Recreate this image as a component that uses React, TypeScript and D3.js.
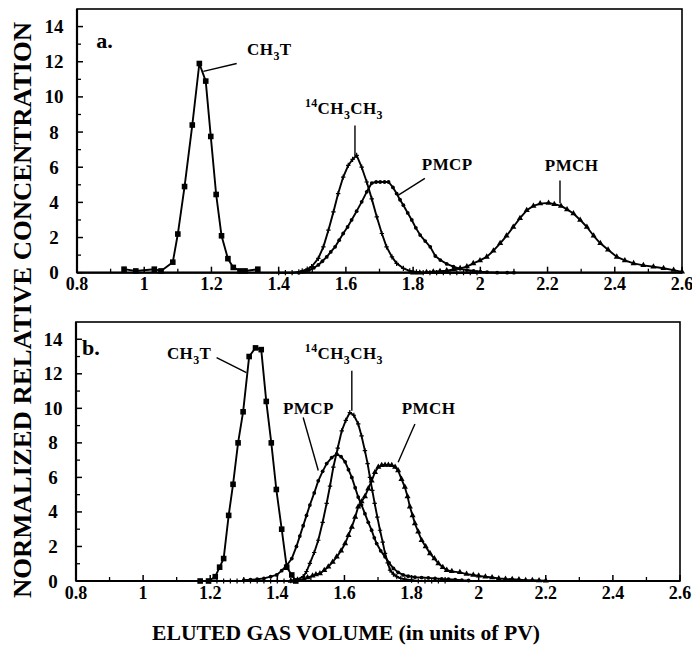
import React from 'react';
import * as d3 from 'd3';

type P = [number, number];

// ---------- axis ticks ----------
const xTicks = [0.8, 1, 1.2, 1.4, 1.6, 1.8, 2, 2.2, 2.4, 2.6];
const xTickLabels = ['0.8', '1', '1.2', '1.4', '1.6', '1.8', '2', '2.2', '2.4', '2.6'];
const yTicks = [0, 2, 4, 6, 8, 10, 12, 14];
const yTickLabels = ['0', '2', '4', '6', '8', '10', '12', '14'];

// ---------- panel a ----------
const ch3tA: P[] = [
  [0.94, 0.2], [0.975, 0.1], [1.03, 0.2], [1.05, 0.1], [1.085, 0.6], [1.1, 2.2], [1.12, 4.9],
  [1.143, 8.4], [1.164, 11.9], [1.183, 10.9], [1.198, 7.75], [1.214, 4.45], [1.23, 2.1],
  [1.249, 0.8], [1.265, 0.3], [1.285, 0.1], [1.3, 0.1], [1.338, 0.2],
];
const ethaneA: P[] = [
  [1.4, 0], [1.42, 0], [1.44, 0], [1.46, 0.05], [1.47, 0.1], [1.485, 0.2], [1.498, 0.34],
  [1.518, 0.82], [1.533, 1.47], [1.548, 2.42], [1.563, 3.46], [1.577, 4.5], [1.592, 5.44],
  [1.607, 6.1], [1.62, 6.45], [1.632, 6.67], [1.647, 6.0], [1.662, 5.16], [1.677, 4.2],
  [1.692, 3.17], [1.707, 2.23], [1.721, 1.47], [1.737, 0.9], [1.751, 0.53], [1.771, 0.25],
  [1.79, 0.1], [1.81, 0.05], [1.83, 0], [1.85, 0], [1.87, 0], [1.89, 0], [1.91, 0], [1.93, 0],
  [1.95, 0], [1.97, 0], [1.99, 0],
];
const pmcpA: P[] = [
  [1.46, 0], [1.475, 0.05], [1.49, 0.15], [1.505, 0.28], [1.518, 0.44], [1.53, 0.65],
  [1.543, 0.9], [1.555, 1.18], [1.568, 1.47], [1.58, 1.85], [1.592, 2.23], [1.605, 2.6],
  [1.617, 3.0], [1.632, 3.5], [1.647, 4.03], [1.662, 4.6], [1.677, 5.1], [1.69, 5.16],
  [1.702, 5.16], [1.715, 5.16], [1.727, 5.16], [1.74, 4.85], [1.751, 4.5], [1.761, 4.15],
  [1.771, 3.84], [1.784, 3.4], [1.796, 3.0], [1.808, 2.55], [1.821, 2.14], [1.836, 1.8],
  [1.851, 1.47], [1.866, 0.95], [1.881, 0.72], [1.9, 0.5], [1.92, 0.35], [1.94, 0.22],
  [1.96, 0.15], [1.98, 0.1], [2.0, 0.06], [2.02, 0.03], [2.05, 0], [2.08, 0], [2.1, 0],
];
const pmchA: P[] = [
  [1.8, 0], [1.82, 0], [1.84, 0.02], [1.86, 0.05], [1.88, 0.08], [1.9, 0.12], [1.92, 0.18],
  [1.94, 0.25], [1.96, 0.35], [1.979, 0.53], [1.999, 0.7], [2.019, 0.9], [2.039, 1.25],
  [2.059, 1.67], [2.078, 2.1], [2.098, 2.6], [2.118, 3.1], [2.138, 3.55], [2.158, 3.8],
  [2.178, 3.93], [2.203, 3.97], [2.22, 3.9], [2.24, 3.8], [2.258, 3.6], [2.277, 3.37],
  [2.297, 3.0], [2.317, 2.6], [2.337, 2.1], [2.357, 1.67], [2.38, 1.3], [2.406, 0.9],
  [2.43, 0.7], [2.456, 0.53], [2.485, 0.42], [2.515, 0.34], [2.545, 0.25], [2.575, 0.15],
  [2.6, 0.05],
];

// ---------- panel b ----------
const ch3tB: P[] = [
  [1.17, 0], [1.195, 0], [1.215, 0.25], [1.228, 0.8], [1.24, 1.3], [1.255, 3.8], [1.268, 5.6],
  [1.283, 8.0], [1.298, 9.8], [1.316, 13.0], [1.335, 13.5], [1.352, 13.4], [1.367, 10.4],
  [1.382, 8.0], [1.397, 5.3], [1.413, 3.0], [1.428, 0.8], [1.443, 0.35], [1.455, 0],
];
const ethaneB: P[] = [
  [1.2, 0], [1.22, 0], [1.24, 0], [1.26, 0], [1.28, 0], [1.3, 0], [1.32, 0], [1.34, 0],
  [1.36, 0], [1.38, 0], [1.4, 0], [1.42, 0], [1.44, 0.02], [1.46, 0.1], [1.477, 0.25],
  [1.487, 0.55], [1.497, 1.02], [1.51, 1.65], [1.522, 2.36], [1.535, 3.4], [1.547, 4.5],
  [1.557, 5.5], [1.567, 6.6], [1.58, 7.7], [1.592, 8.7], [1.604, 9.3], [1.616, 9.76],
  [1.628, 9.6], [1.641, 9.1], [1.651, 8.4], [1.661, 7.55], [1.669, 6.8], [1.676, 6.0],
  [1.683, 5.25], [1.69, 4.5], [1.698, 3.7], [1.706, 2.94], [1.714, 2.25], [1.721, 1.6],
  [1.729, 1.05], [1.736, 0.63], [1.746, 0.4], [1.756, 0.25], [1.768, 0.15], [1.78, 0.1],
  [1.8, 0.05], [1.82, 0], [1.84, 0], [1.86, 0], [1.88, 0], [1.9, 0],
];
const pmcpB: P[] = [
  [1.3, 0.05], [1.32, 0.08], [1.34, 0.1], [1.36, 0.15], [1.38, 0.25], [1.398, 0.35],
  [1.413, 0.6], [1.428, 0.9], [1.443, 1.3], [1.457, 2.0], [1.467, 2.6], [1.477, 3.2],
  [1.487, 3.8], [1.497, 4.4], [1.51, 5.1], [1.522, 5.8], [1.535, 6.35], [1.547, 6.8],
  [1.562, 7.15], [1.577, 7.36], [1.59, 7.2], [1.602, 6.9], [1.612, 6.45], [1.622, 6.0],
  [1.632, 5.4], [1.641, 4.86], [1.651, 4.4], [1.661, 3.9], [1.671, 3.4], [1.681, 2.94],
  [1.689, 2.5], [1.696, 2.17], [1.708, 1.75], [1.721, 1.4], [1.733, 1.05], [1.746, 0.73],
  [1.76, 0.5], [1.775, 0.35], [1.79, 0.28], [1.81, 0.22], [1.83, 0.2], [1.85, 0.18],
  [1.87, 0.15], [1.89, 0.12], [1.91, 0.1], [1.93, 0.08], [1.95, 0.05], [1.97, 0.03],
];
const pmchB: P[] = [
  [1.44, 0], [1.46, 0.05], [1.48, 0.1], [1.49, 0.2], [1.505, 0.3], [1.515, 0.38],
  [1.527, 0.44], [1.54, 0.62], [1.552, 0.83], [1.565, 1.1], [1.577, 1.4], [1.59, 1.75],
  [1.602, 2.17], [1.612, 2.65], [1.622, 3.13], [1.632, 3.7], [1.641, 4.3], [1.651, 4.6],
  [1.661, 4.9], [1.671, 5.35], [1.681, 5.8], [1.691, 6.3], [1.701, 6.6], [1.711, 6.7],
  [1.721, 6.72], [1.731, 6.72], [1.741, 6.7], [1.751, 6.6], [1.76, 6.4], [1.77, 5.9],
  [1.78, 5.44], [1.788, 4.9], [1.795, 4.3], [1.803, 3.8], [1.81, 3.33], [1.82, 2.85],
  [1.83, 2.36], [1.842, 2.0], [1.855, 1.6], [1.868, 1.3], [1.88, 1.02], [1.893, 0.8],
  [1.905, 0.63], [1.92, 0.56], [1.944, 0.5], [1.964, 0.4], [1.984, 0.35], [2.0, 0.3],
  [2.02, 0.25], [2.04, 0.2], [2.06, 0.15], [2.08, 0.12], [2.1, 0.1], [2.12, 0.08],
  [2.14, 0.05], [2.16, 0.04], [2.18, 0.03], [2.2, 0.02],
];

// ---------- text ----------
type Part = { t: string; k?: 'sub' | 'sup' };
const nameCH3T: Part[] = [{ t: 'CH' }, { t: '3', k: 'sub' }, { t: 'T' }];
const nameEthane: Part[] = [
  { t: '14', k: 'sup' }, { t: 'CH' }, { t: '3', k: 'sub' }, { t: 'CH' }, { t: '3', k: 'sub' },
];
const namePMCP: Part[] = [{ t: 'PMCP' }];
const namePMCH: Part[] = [{ t: 'PMCH' }];
const yTitle = 'NORMALIZED RELATIVE CONCENTRATION';
const xTitle = 'ELUTED GAS VOLUME (in units of PV)';

type Marker = 'square' | 'plus' | 'dot' | 'tri';
type Series = { data: P[]; marker: Marker };
type Label = { parts: Part[]; at: P; lead: [P, P] };

const FONT = '"Liberation Serif", "Times New Roman", serif';

function Rich({ parts, x, y, size }: { parts: Part[]; x: number; y: number; size: number }) {
  let level = 0;
  const spans = parts.map((p, i) => {
    const target = p.k === 'sub' ? size * 0.32 : p.k === 'sup' ? -size * 0.38 : 0;
    const dy = target - level;
    level = target;
    return (
      <tspan key={i} dy={dy} fontSize={p.k ? size * 0.7 : size}>
        {p.t}
      </tspan>
    );
  });
  return (
    <text x={x} y={y} fontFamily={FONT} fontWeight="bold" fontSize={size} fill="#000" letterSpacing={0.4}>
      {spans}
    </text>
  );
}

function MarkerShape({ m, cx, cy }: { m: Marker; cx: number; cy: number }) {
  if (m === 'square') return <rect x={cx - 2.8} y={cy - 2.8} width={5.6} height={5.6} fill="#000" />;
  if (m === 'dot') return <circle cx={cx} cy={cy} r={1.9} fill="#000" />;
  if (m === 'tri') {
    const d = d3.symbol().type(d3.symbolTriangle).size(16)() as string;
    return <path d={d} transform={`translate(${cx},${cy})`} fill="#000" />;
  }
  return (
    <path d={`M${cx - 2.2},${cy}H${cx + 2.2}M${cx},${cy - 2.6}V${cy + 2.6}`} stroke="#000" strokeWidth={1.2} />
  );
}

function Panel({
  l, r, t, b, tag, tagAt, series, labels,
}: {
  l: number; r: number; t: number; b: number; tag: string; tagAt: P; series: Series[]; labels: Label[];
}) {
  const x = d3.scaleLinear().domain([0.8, 2.6]).range([l, r]);
  const y = d3.scaleLinear().domain([0, 15]).range([b, t]);
  const line = d3.line<P>().x((d) => x(d[0])).y((d) => y(d[1]));
  const xMinor = d3.range(0.9, 2.6, 0.2);
  const yMinor = d3.range(1, 15, 2);
  return (
    <g>
      {/* frame */}
      <rect x={l} y={t} width={r - l} height={b - t} fill="none" stroke="#000" strokeWidth={1.6} />
      <line x1={l} x2={l} y1={t} y2={b} stroke="#000" strokeWidth={2.2} />
      <line x1={l} x2={r} y1={b} y2={b} stroke="#000" strokeWidth={2.2} />
      {/* ticks */}
      {xTicks.map((v) => (
        <line key={'xt' + v} x1={x(v)} x2={x(v)} y1={b} y2={b - 6} stroke="#000" strokeWidth={1.5} />
      ))}
      {xMinor.map((v) => (
        <line key={'xm' + v} x1={x(v)} x2={x(v)} y1={b} y2={b - 4} stroke="#000" strokeWidth={1.3} />
      ))}
      {yTicks.map((v) => (
        <line key={'yt' + v} x1={l} x2={l + 6} y1={y(v)} y2={y(v)} stroke="#000" strokeWidth={1.5} />
      ))}
      {yMinor.map((v) => (
        <line key={'ym' + v} x1={l} x2={l + 4} y1={y(v)} y2={y(v)} stroke="#000" strokeWidth={1.3} />
      ))}
      {xTicks.map((v, i) => (
        <text key={'xl' + v} x={x(v)} y={b + 17.5} textAnchor="middle" fontFamily={FONT} fontWeight="bold" fontSize={18}>
          {xTickLabels[i]}
        </text>
      ))}
      {yTicks.map((v, i) => (
        <text key={'yl' + v} x={l - 23} y={y(v) + 6.5} textAnchor="middle" fontFamily={FONT} fontWeight="bold" fontSize={19}>
          {yTickLabels[i]}
        </text>
      ))}
      {/* series */}
      {series.map((s, i) => (
        <g key={'s' + i}>
          <path d={line(s.data) as string} fill="none" stroke="#000" strokeWidth={1.9} strokeLinejoin="round" />
          {s.data.map((d, j) => (
            <MarkerShape key={j} m={s.marker} cx={x(d[0])} cy={y(d[1])} />
          ))}
        </g>
      ))}
      {/* labels */}
      {labels.map((lb, i) => (
        <g key={'lb' + i}>
          <line x1={x(lb.lead[0][0])} y1={y(lb.lead[0][1])} x2={x(lb.lead[1][0])} y2={y(lb.lead[1][1])} stroke="#000" strokeWidth={1.4} />
          <Rich parts={lb.parts} x={x(lb.at[0])} y={y(lb.at[1])} size={17} />
        </g>
      ))}
      <text x={x(tagAt[0])} y={y(tagAt[1])} fontFamily={FONT} fontWeight="bold" fontSize={22}>
        {tag}
      </text>
    </g>
  );
}

export default function App() {
  const labelsA: Label[] = [
    { parts: nameCH3T, at: [1.306, 12.4], lead: [[1.275, 11.9], [1.176, 11.45]] },
    { parts: nameEthane, at: [1.478, 9.05], lead: [[1.627, 8.37], [1.627, 6.67]] },
    { parts: namePMCP, at: [1.826, 5.82], lead: [[1.835, 5.37], [1.755, 4.4]] },
    { parts: namePMCH, at: [2.192, 5.77], lead: [[2.237, 5.25], [2.237, 3.95]] },
  ];
  const labelsB: Label[] = [
    { parts: nameCH3T, at: [1.071, 12.86], lead: [[1.219, 12.94], [1.308, 12.07]] },
    { parts: namePMCP, at: [1.417, 9.69], lead: [[1.477, 9.47], [1.522, 6.4]] },
    { parts: nameEthane, at: [1.482, 12.86], lead: [[1.622, 12.17], [1.622, 9.86]] },
    { parts: namePMCH, at: [1.771, 9.69], lead: [[1.81, 9.09], [1.76, 6.88]] },
  ];
  return (
    <svg width={692} height={652} style={{ position: 'absolute', left: 0, top: 0, background: '#fff' }}>
      <Panel
        l={77} r={682} t={9} b={272.7} tag="a." tagAt={[0.857, 12.8]}
        series={[
          { data: ch3tA, marker: 'square' },
          { data: ethaneA, marker: 'plus' },
          { data: pmcpA, marker: 'dot' },
          { data: pmchA, marker: 'tri' },
        ]}
        labels={labelsA}
      />
      <Panel
        l={76} r={680} t={322} b={581} tag="b." tagAt={[0.818, 13.1]}
        series={[
          { data: ch3tB, marker: 'square' },
          { data: ethaneB, marker: 'plus' },
          { data: pmcpB, marker: 'dot' },
          { data: pmchB, marker: 'tri' },
        ]}
        labels={labelsB}
      />
      <text
        transform="translate(31,310) rotate(-90)"
        textAnchor="middle"
        fontFamily={FONT}
        fontWeight="bold"
        fontSize={26}
        textLength={576}
        lengthAdjust="spacingAndGlyphs"
      >
        {yTitle}
      </text>
      <text
        x={346}
        y={640}
        textAnchor="middle"
        fontFamily={FONT}
        fontWeight="bold"
        fontSize={22}
        textLength={388}
        lengthAdjust="spacingAndGlyphs"
      >
        {xTitle}
      </text>
    </svg>
  );
}
